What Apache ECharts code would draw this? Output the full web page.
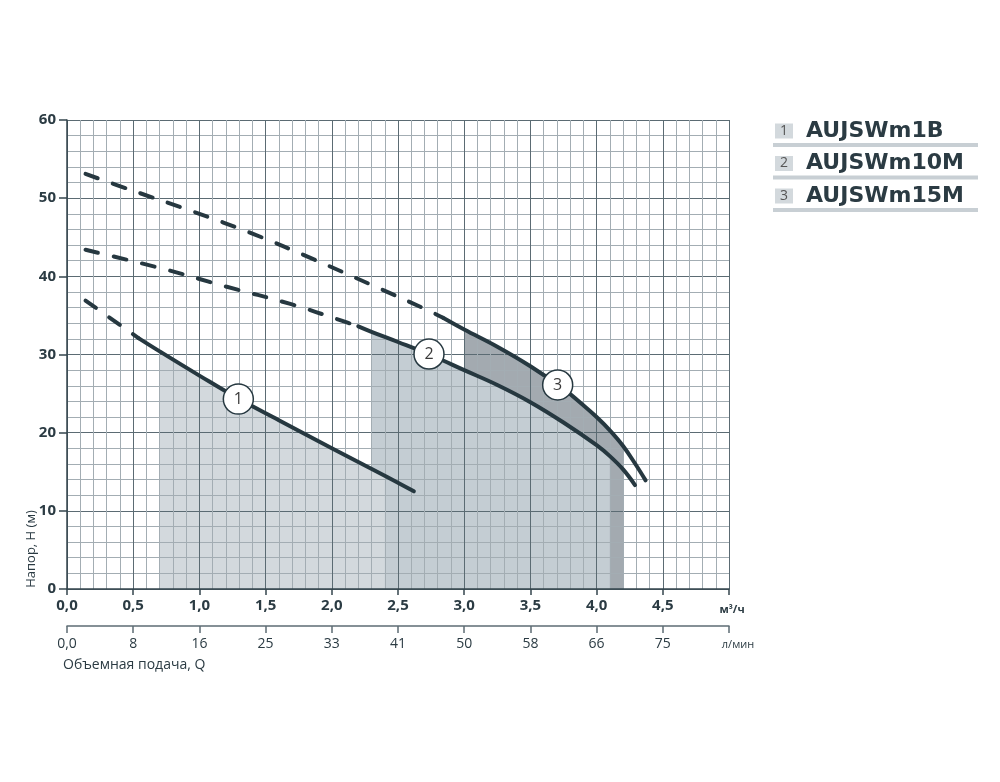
<!DOCTYPE html>
<html><head><meta charset="utf-8">
<script src="https://cdn.jsdelivr.net/npm/echarts@6/dist/echarts.min.js"></script>
<style>html,body{margin:0;padding:0;background:#fff}#c{width:1000px;height:782px}</style>
</head><body><div id="c"></div>
<script>
// ---- data ----
const qTickLabels = ['0,0','0,5','1,0','1,5','2,0','2,5','3,0','3,5','4,0','4,5','м³/ч'];
const lpmTickLabels = ['0,0','8','16','25','33','41','50','58','66','75','л/мин'];
const models = ['AUJSWm1B','AUJSWm10M','AUJSWm15M'];
const markerLabels = ['1','2','3'];
const yAxisTitle = 'Напор, Н (м)';
const xAxisTitle = 'Объемная подача, Q';

const curve1Dashed = [[0.14,36.9],[0.54,32.1]];
const curve1Solid  = [[0.54,32.1],[0.7,30.4],[1.0,27.3],[1.3,24.3],[1.6,21.6],[2.0,18.0],[2.4,14.5],[2.62,12.5]];
const curve2Dashed = [[0.14,43.4],[0.74,40.9],[1.2,38.7],[1.68,36.5],[2.08,34.3],[2.2,33.6]];
const curve2Solid  = [[2.2,33.6],[2.3,32.9],[2.5,31.6],[2.75,29.9],[3.0,28.0],[3.25,26.1],[3.5,23.9],[3.75,21.3],[4.0,18.4],[4.1,17.0],[4.2,15.3],[4.29,13.3]];
const curve3Dashed = [[0.14,53.1],[0.49,51.0],[0.95,48.3],[1.41,45.4],[1.86,42.2],[2.3,38.9],[2.72,35.7],[2.84,34.7]];
const curve3Solid  = [[2.84,34.7],[3.0,33.2],[3.25,31.0],[3.5,28.5],[3.75,25.6],[3.9,23.5],[4.0,22.0],[4.1,20.3],[4.2,18.3],[4.3,15.8],[4.37,13.9]];
// working ranges (shaded) : subsets of solid curves
const area1 = curve1Solid.slice(1,7);  // 0.7 .. 2.4
const area2 = curve2Solid.slice(1,10); // 2.3 .. 4.1
const area3 = curve3Solid.slice(1,9);  // 3.0 .. 4.2
const markers = [[1.294,24.3],[2.734,30.06],[3.706,26.1]];

// ---- styles ----
const dark = '#263840';
const txt = '#2b3b43';
const font = 'Open Sans';
const axisCol = '#34454d';

const chart = echarts.init(document.getElementById('c'), null, {renderer:'canvas'});

function lineSeries(data, dashed, z){
  return {type:'line', data:data, smooth:0.4, symbol:'none', z:z,
    lineStyle:{color:dark, width:4, cap:'round', type: dashed ? [13,16] : 'solid'}, silent:true};
}
function areaSeries(data, color, z){
  return {type:'line', data:data, smooth:0.4, symbol:'none', z:z,
    lineStyle:{width:0, opacity:0}, areaStyle:{color:color, opacity:1}, silent:true};
}

const legendGraphics = [];
models.forEach((m,i)=>{
  const cy = 131 + i*32.5;
  legendGraphics.push({type:'rect', shape:{x:775, y:cy-7.5, width:18, height:15}, style:{fill:'#d3d9dd'}});
  legendGraphics.push({type:'text', x:784, y:cy, style:{text:markerLabels[i], font:'14px "Open Sans"', fill:'#555', align:'center', verticalAlign:'middle'}});
  legendGraphics.push({type:'text', x:806, y:cy, style:{text:m, font:'bold 22px "DejaVu Sans"', fill:'#2b3b43', align:'left', verticalAlign:'middle'}});
  legendGraphics.push({type:'line', shape:{x1:773, y1:cy+14, x2:978, y2:cy+14}, style:{stroke:'#c8cfd4', lineWidth:4}});
});

const option = {
  animation:false,
  backgroundColor:'#fff',
  grid:{left:67, top:120, width:662, height:469, containLabel:false},
  xAxis:[
    {type:'value', min:0, max:5, interval:0.5, z:5,
     axisLine:{show:true, onZero:false, lineStyle:{color:axisCol, width:1.5}},
     axisTick:{show:true, length:6, lineStyle:{color:axisCol, width:1.5}},
     axisLabel:{margin:9, fontFamily:font, fontWeight:'bold', fontSize:15, color:txt, showMaxLabel:true, showMinLabel:true,
       formatter:(v)=>{const i=Math.round(v/0.5); return i===10 ? '{u|'+qTickLabels[i]+'}' : qTickLabels[i];},
       rich:{u:{fontSize:11, fontWeight:'bold', fontFamily:font, color:txt, padding:[6,0,0,6]}}},
     splitLine:{show:true, lineStyle:{color:'#5b6b73', width:1}},
     minorTick:{show:false, splitNumber:5},
     minorSplitLine:{show:true, lineStyle:{color:'#a3adb3', width:1}}},
    {type:'value', min:0, max:5, interval:0.5, position:'bottom', offset:37, z:5,
     axisLine:{show:true, onZero:false, lineStyle:{color:'#5d6c74', width:1.5}},
     axisTick:{show:true, length:7, lineStyle:{color:'#5d6c74', width:1.5}},
     axisLabel:{margin:11, fontFamily:font, fontSize:14, color:txt, showMaxLabel:true, showMinLabel:true,
       formatter:(v)=>{const i=Math.round(v/0.5); return i===10 ? '{u|'+lpmTickLabels[i]+'}' : lpmTickLabels[i];},
       rich:{u:{fontSize:11, fontFamily:font, color:txt, padding:[2,0,0,18]}}},
     splitLine:{show:false}}
  ],
  yAxis:{type:'value', min:0, max:60, interval:10, z:5,
     axisLine:{show:true, onZero:false, lineStyle:{color:axisCol, width:1.5}},
     axisTick:{show:true, length:8, lineStyle:{color:axisCol, width:1.5}},
     axisLabel:{margin:11, fontFamily:font, fontWeight:'bold', fontSize:15, color:txt},
     splitLine:{show:true, lineStyle:{color:'#5b6b73', width:1}},
     minorTick:{show:false, splitNumber:5},
     minorSplitLine:{show:true, lineStyle:{color:'#a3adb3', width:1}}},
  series:[
    areaSeries(area3, '#a3aab0', 1),
    areaSeries(area2, '#c4cdd3', 2),
    areaSeries(area1, '#d3d9dd', 3),
    lineSeries(curve1Dashed, true, 6),
    lineSeries(curve1Solid, false, 6),
    lineSeries(curve2Dashed, true, 6),
    lineSeries(curve2Solid, false, 6),
    lineSeries(curve3Dashed, true, 6),
    lineSeries(curve3Solid, false, 6),
    {type:'scatter', data:markers, z:8, symbol:'circle', symbolSize:30, silent:true,
     itemStyle:{color:'#fff', borderColor:dark, borderWidth:1.5, opacity:1},
     label:{show:true, position:'inside', formatter:(p)=>markerLabels[p.dataIndex], fontFamily:font, fontSize:16, color:'#3a3a3a'}}
  ],
  graphic:[
    {type:'text', x:31, y:549, rotation:Math.PI/2, style:{text:yAxisTitle, font:'13px "Open Sans"', fill:txt, align:'center', verticalAlign:'middle'}},
    {type:'text', x:63, y:665, style:{text:xAxisTitle, font:'14px "Open Sans"', fill:txt, align:'left', verticalAlign:'middle'}}
  ].concat(legendGraphics)
};
chart.setOption(option);
</script></body></html>
